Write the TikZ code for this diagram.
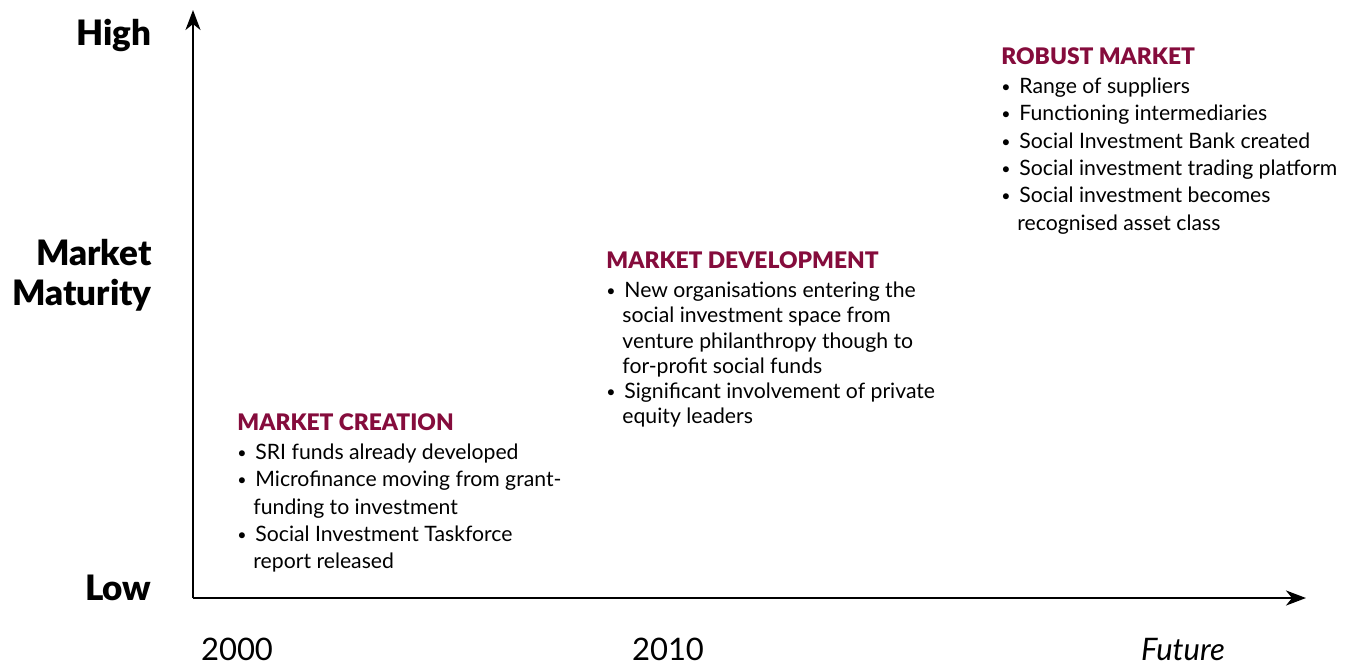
\documentclass[tikz,border=0pt]{standalone}
\usepackage{fontspec}
\setmainfont{Lato}
\newfontfamily\blackfont{Lato Black}
\usetikzlibrary{positioning,arrows.meta}
\definecolor{maroon}{RGB}{133,12,60}
\newcommand{\itm}{\makebox[9pt][l]{\raisebox{0.6pt}{\fontsize{8}{8}\selectfont\textbullet}}}
\newcommand{\cnt}{\hspace*{8pt}}
\tikzset{
  >={Stealth[length=10pt,width=7.5pt,inset=3pt]}, x=0.5pt, y=-0.5pt,
  axis/.style={->, line width=1.2pt},
  axlbl/.style={anchor=base east, inner sep=0, align=right, font=\blackfont\fontsize{17.5}{20}\selectfont},
  year/.style={anchor=base, inner sep=0, font=\fontsize{15.5}{18}\selectfont},
  head/.style={anchor=base west, inner sep=0, text=maroon, font=\blackfont\fontsize{11.4}{13}\selectfont},
  blist/.style={anchor=north west, inner sep=0, align=left, font=\fontsize{10.6}{13.65}\selectfont}
  }

\begin{document}
\begin{tikzpicture}
    \useasboundingbox (0,0) rectangle (1352,666);

    % axes
    \coordinate (o) at (193,598);
    \coordinate (ytip) at (193,10);
    \coordinate (xtip) at (1306,598);
    \draw [axis] (o) -- (ytip);
    \draw [axis] (o) -- (xtip);

    % maturity labels
    \node [axlbl] (high) at (152,45) {High};
    \node [axlbl] (mat) at (152,305) {Market\\Maturity};
    \node [axlbl] (low) at (152,600) {Low};

    % time labels
    \node [year] (y2000) at (237,660) {2000};
    \node [year] (y2010) at (668,660) {2010};
    \node [year, font=\itshape\fontsize{15.5}{18}\selectfont] (fut) at (1183,660) {Future};

    % stages
    \node [head] (crea) at (237,430) {MARKET CREATION};
    \node [blist, below=6.5pt of crea.south west, anchor=north west] (creal) {%
      \itm SRI funds already developed\\
      \itm Microfinance moving from grant-\\
      \cnt funding to investment\\
      \itm Social Investment Taskforce\\
      \cnt report released};

    \node [head] (dev) at (606,268) {MARKET DEVELOPMENT};
    \node [blist, font=\fontsize{10.6}{12.6}\selectfont, below=6.5pt of dev.south west, anchor=north west] (devl) {%
      \itm New organisations entering the\\
      \cnt social investment space from\\
      \cnt venture philanthropy though to\\
      \cnt for-profit social funds\\
      \itm Significant involvement of private\\
      \cnt equity leaders};

    \node [head] (rob) at (1001,64) {ROBUST MARKET};
    \node [blist, below=6.5pt of rob.south west, anchor=north west] (robl) {%
      \itm Range of suppliers\\
      \itm Functioning intermediaries\\
      \itm Social Investment Bank created\\
      \itm Social investment trading platform\\
      \itm Social investment becomes\\
      \cnt recognised asset class};

\end{tikzpicture}
\end{document}
